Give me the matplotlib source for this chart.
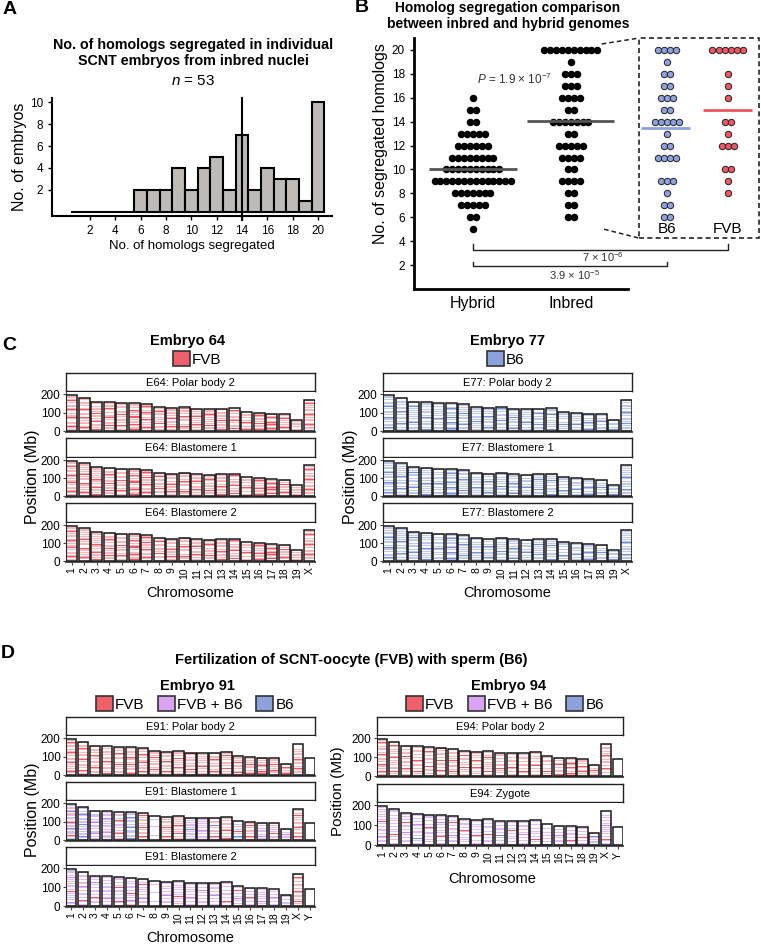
import numpy as np
import matplotlib.pyplot as plt
from matplotlib.patches import Rectangle, Patch
from matplotlib.colors import to_rgba

plt.rcParams['font.family'] = ['Liberation Sans', 'DejaVu Sans']
plt.rcParams['mathtext.fontset'] = 'custom'
plt.rcParams['mathtext.rm'] = 'Liberation Sans'
plt.rcParams['mathtext.it'] = 'Liberation Sans:italic'

# ---- data ----
seg_values = list(range(1, 21))
hybrid_counts = [0, 0, 0, 0, 1, 2, 5, 7, 14, 10, 8, 6, 5, 2, 2, 1, 0, 0, 0, 0]
b6_counts = [0, 0, 0, 0, 0, 2, 2, 1, 3, 0, 4, 2, 1, 5, 2, 3, 2, 2, 1, 4]
fvb_counts = [0, 0, 0, 0, 0, 0, 0, 1, 1, 2, 0, 3, 1, 2, 0, 1, 1, 1, 0, 6]
inbred_counts = [b + f for b, f in zip(b6_counts, fvb_counts)]

chroms = [str(i) for i in range(1, 20)] + ['X', 'Y']
chrom_mb = [195, 182, 160, 157, 152, 150, 145, 130, 125, 131, 122, 120, 121, 125,
            104, 98, 95, 91, 61, 171, 92]

# stripe calls along each chromosome: '.' none, lower = faint, upper = strong
# r = FVB, p = FVB + B6, b = B6
e64_calls = [
    "rr.rRr.rr..rRrr.r.rRr.rr.r.Rr.rr", "r.rRr.rr.rrR..rr.rRr.r.rr.rr",
    "rR.r.rr.Rr.r.rrR.r.rr.r.rr", "r.rr.R.rr.r.Rrr..r.rR.rr.r",
    "rr..rR.r.rr.r.R.rr..rr.r", "rRrr.rRrr.r.RRr.rrR.r.rr",
    "r.rRr.rr.rR.r.rrR.r.rRr", ".r.rr..R.r.rr..rr.Rr.r",
    "rr.rR.r.rr.Rr.r.rr.rr", "r.rrR.r..rr.rR.r.rr.R",
    "rr.r.rR.rr.r.Rr.rr.r", "r.rr.R.r.rr.r.rRr.rr",
    "RR.r.rr.rR.r.rr.rr.r", "r.R.rr.r.Rr.rr.r.rR.",
    ".Rr.r..rR.r..r.rr.", "rRr.rr.Rr.rr.rRr",
    "RrRr.rRrRr.rRr.r", "r.rRr.r.rr.Rr.r",
    "rRr.r.rr.r.", "r.rr.rRr.rr.r.rRr.rr.r.rRr.r",
]
e77_calls = [
    "b.bB.bb.b.bbB.b.bb.b.Bb.bb.b.bb", "bb.b.bB.b.bb.b.bB.bb.b.bb.b",
    "b.bb.b.Bb.b.bb.b.bb.Bb.b", "bB.b.bb.b.bB.b.bb.b.b.bb",
    "b.bb.b.b.bB.b.bb.b.b.b", "BbBb.bbB.b.Bb.bb.bBb.b",
    "b.bb.Bb.b.bb.bB.b.bb.b", "bb.b.b.bB.b.bb.b.b.bb",
    "b.bB.b.bb.b.bB.b.b.b", "bb.b.bb.B.b.bb.b.bB",
    "b.Bb.b.bb.bB.b.b.bb", "bb.b.b.Bb.b.bb.b.b",
    "b.bb.B.b.bb.b.Bb.b", "bB.b.bb.b.b.Bb.bb",
    "b.b.bB.b..b.b.bb", "bb.b.Bb.b.bb.b",
    "bBb.b.bBb.b.bb", "b.bb.b.Bb.b.b",
    "bB.b.bb.b", "b.bb.bB.b.bb.b.bBb.b.bb.b.b",
]
e91_pb2_calls = [
    "r.rRr.r.rr.Rr.rr.r.rRr.r.rr.rR.r", "rr.rR.r.rr.r.Rr.rr.r.rR.rr.r",
    "r.rr.rR.r.rr.r.rR.r.rr.r", "rR.r.rr.r.rR.rr.r.rr.r.",
    "r.rr.r.rR.r..rr.rR.r.r", "rRr.rr.rR.r.rrR.r.rr.r",
    "r.rR.rr.r.Rrr.r.rR.r.r", "rr.r.R.r.rr.r.rR.r.rr",
    "r.rR.r.rr.rR.r.rr.r", "rr.r.rR.r.rr.R.r.rr",
    "r.rr.R.rr.r.rr.r.rR", "rr.r.r.Rr.r.rr.r.r",
    "r.rR.r.rr.r.rR.rr.r", "rr.r.R.r.rr.r.rR.r",
    "r.Rr.r.rr.R.r.rr", "rRr.r.rr.Rr.r.r",
    "rRrR.r.rRr.rr.R", "r.rrR.r.rR.r.rr",
    "rRr.r.rR.r", "r.rr.rR.r.rr.rR.r.rr.r.r....", "",
]
e91_b1_calls = [
    "pb.rR.pbp.rB.pp.bRr.pb.prr.Bp.rp.b", "b.pB.bpb.pp.bB.pb.bp.pBb.p.bp",
    "pp.p.Ppb.p.pp.Pp.p.ppb.p", "p.pbp.Pp.p.pp.bp.pP.pp.p",
    "rr.p.Rr.p.r.pp.rR.p.rp.", "bB.pb.pbb.Bp.b.bb.pB.bp",
    "r.rR.rr.r.Rr.r.rr.rR.", "....b.......p.....b..",
    "r.rR.r.r.rR.r.rr.r.", "rr.r.R.r.r.rR.rr.r.r",
    "pb.p.bp.pB.p.bp.pp.b", "p.pp.p.pP.p.pp.p.p",
    "r.bR.r.br.r.B.rr.r", "rR.r.r.Rr.r.rr.r.r",
    "b.bB.r.R.b.r.b..", "r.rR.r.rr.r.R.r",
    "pp.P.p.pp.p.p.p", "r.pr.R.p.rp.r.",
    "p.pp.P.p.p", "r.rR.rr.r.Rr.rr.r.rR.r.rr", "B...............",
]
e91_b2_calls = [
    "p.pP.b.pp.pR.p.pp.rp.pP.p.ppb", "rp.pR.p.pp.r.pP.pr.p.rp.p",
    "p.pp.pR.p.pp.p.pP.p.p", "pp.p.Pp.p.pp.bp.p.p.p",
    "p.pR.pp.p.pp.Rp.p.pp", "pr.pP.pp.R.p.pp.pp.p",
    "p.pp.Pp.r.pp.p.Rp.p", "...p......p.....p.",
    "p.pp.p.Pp.p.pp.p", "p.rp.p.Rp.p.pp.p.p",
    "pp.p.pP.p.pp.p.p", "p.pp.p.p.pP.p.p",
    "pp.p.p.Pp.p.pp.p", "p.pR.p.pp.p.p.p",
    "p.p.pP.p.p.R.p", "pp.p.pR.p.p.p",
    "p.pP.p.pp.p.p", "pp.p.pP.p.p.",
    "p.pp.p.pP", "r.rR.r.rr.rR.r.rr.r.rR.r", "B...............",
]
e94_pb2_calls = [
    "rr.rR.r.rrR.r.rr.rR.r.rr.r.rR.r", "r.rR.rr.r.rr.Rr.r.rr.rR.r",
    "rr.r.rR.r.rr.r.R.rr.r.r", "r.rR.r.rr.rR.r.r.rr.r",
    "r.r.rr.R..r.rr.r.rR.r", "rr.rR.r.rr.R.r.rr.rR",
    "r.rR.r.rr.r.Rr.r.rr.r", "rr.r.rR.r.r.rr.R.r",
    "r.rr.rR.r.rR.r.rr", "rr.R.r.rr.r.rR.r.r",
    "r.r.rR.rr.r.r.rr", "rr.r.rR.r.rr.r.r",
    "r.rR.r.rr.r.rr.r", "rr.r.r.Rr.r.rr.r",
    "R.rR.r..r.rr.r", "rR.rr.r.Rr.rr",
    "RrRr.rR.rRr.r", "r.rRr.rR.r.rr",
    "rr.rR.r.r", "...r.rR.r.rr.r.rRr.r.rr.r", "",
]
e94_zyg_calls = [
    "p.pp.pP.p.pp.p.pR.p.pp.p.pp", "pp.p.pR.pp.p.p.pp.p.pp",
    "p.pp.p.pP.p.pp.R.p.pp", "pp.bB.p.pp.p.pP.p.p.p",
    "p.rp.p.pp.pR.p.p.pp", "pp.p.Rp.pp.p.pP.p.p",
    "p.pp.pP.p.pp.p.Rp.p", "p.p.pp.p.pR.p.pp.p",
    "pp.p.pR.p.p.pp.p", "p.pp.p.R.p.pp.p.p",
    "pp.b.pB.p.pp.p.p", "p.p.pp.p.Rp.p.p",
    "pp.p.p.Pp.p.pp.p", "p.pR.p.pp.p.p.p",
    "B.p.p.p.p.p..", "p.pp.pP.p.p.b",
    "p.pR.p.pp.p.p", "pp.p.R.p.p.p",
    "b.pb.p.pB.p", ".p.pR.p.r.pp.rP.p.r.p.p..", "",
]

call_colors = {'r': '#EC4856', 'p': '#C57FEA', 'b': '#6A84D4'}
faint_alpha = {'r': 0.38, 'p': 0.5, 'b': 0.42}
legend_colors = {'FVB': '#F0606A', 'FVB + B6': '#D9A3F2', 'B6': '#8DA2DC'}

W, H = 761, 944
fig = plt.figure(figsize=(W / 100, H / 100), dpi=100)


def px_axes(x0, y0, x1, y1):
    return fig.add_axes([x0 / W, 1 - y1 / H, (x1 - x0) / W, (y1 - y0) / H])


def ftext(x, y, s, **kw):
    fig.text(x / W, 1 - y / H, s, **kw)


# ---- panel A ----
ftext(10, 10, 'A', fontsize=14, fontweight='bold', va='center', ha='center')
ftext(193, 53, 'No. of homologs segregated in individual\nSCNT embryos from inbred nuclei',
      fontsize=10.3, fontweight='bold', ha='center', va='center', linespacing=1.2)
ftext(193, 81, r'$\it{n}$ = 53', fontsize=11, ha='center', va='center')

axA = px_axes(52, 98, 332, 216)
axA.bar(seg_values, inbred_counts, width=1, color='#BDBAB7', edgecolor='black', lw=1.5)
axA.axvline(14, ymin=-0.03, ymax=1.0, color='black', lw=1.5, clip_on=False)
axA.set_xlim(-1, 21.1)
axA.set_ylim(-0.4, 10.4)
axA.set_xticks(range(2, 21, 2))
axA.set_yticks(range(2, 11, 2))
axA.tick_params(labelsize=8.5, length=3, width=1)
for s in ['top', 'right']:
    axA.spines[s].set_visible(False)
for s in ['left', 'bottom']:
    axA.spines[s].set_linewidth(1.5)
axA.set_xlabel('No. of homologs segregated', fontsize=9.5, labelpad=2)
axA.set_ylabel('No. of embryos', fontsize=11.5, labelpad=2)

# ---- panel B ----
ftext(362, 8, 'B', fontsize=14, fontweight='bold', va='center', ha='center')
ftext(508, 16, 'Homolog segregation comparison\nbetween inbred and hybrid genomes',
      fontsize=10, fontweight='bold', ha='center', va='center', linespacing=1.2)

axB = px_axes(414, 38, 759, 289)
axB.set_xlim(0.4, 3.92)
axB.set_ylim(0, 21)


def dot_rows(ax, x0, counts, spacing, **kw):
    xs, ys = [], []
    for v, n in zip(seg_values, counts):
        for k in range(n):
            xs.append(x0 + (k - (n - 1) / 2) * spacing)
            ys.append(v)
    ax.plot(xs, ys, 'o', clip_on=False, zorder=3, **kw)


def mean_of(counts):
    return sum(v * n for v, n in zip(seg_values, counts)) / sum(counts)


dot_rows(axB, 1, hybrid_counts, 0.06, color='black', ms=5.4, mew=0)
dot_rows(axB, 2, inbred_counts, 0.06, color='black', ms=5.4, mew=0)
dot_rows(axB, 2.98, b6_counts, 0.062, mfc='#8DA2DC', mec='#222222', ms=4.6, mew=0.7)
dot_rows(axB, 3.6, fvb_counts, 0.062, mfc='#EE5662', mec='#222222', ms=4.6, mew=0.7)

axB.hlines(mean_of(hybrid_counts), 0.55, 1.45, color='#555555', lw=2, zorder=4)
axB.hlines(mean_of(inbred_counts), 1.55, 2.44, color='#555555', lw=2, zorder=4)
axB.hlines(mean_of(b6_counts), 2.72, 3.22, color='#8DA2DC', lw=2, zorder=4)
axB.hlines(mean_of(fvb_counts), 3.35, 3.85, color='#EE5662', lw=2, zorder=4)

axB.add_patch(Rectangle((2.70, 4.25), 1.215, 16.75, fill=False, ls=(0, (3, 2)),
                        lw=1.2, ec='#222222', clip_on=False))
axB.plot([2.315, 2.70], [20.5, 21.0], ls=(0, (3, 2)), lw=1.1, color='#222222', clip_on=False)
axB.plot([2.34, 2.70], [5.0, 4.25], ls=(0, (3, 2)), lw=1.1, color='#222222', clip_on=False)
axB.text(2.98, 5.0, 'B6', fontsize=11, ha='center', va='center')
axB.text(3.6, 5.0, 'FVB', fontsize=11, ha='center', va='center')

axB.text(1.43, 17.5, r'$\it{P}$ = 1.9 × 10$^{-7}$', fontsize=8.5, color='#333333',
         ha='center', va='center')
axB.plot([1, 1, 3.6, 3.6], [3.75, 3.3, 3.3, 3.75], color='#222222', lw=1)
axB.text(2.33, 2.65, '7 × 10$^{-6}$', fontsize=8, color='#333333', ha='center', va='center')
axB.plot([1, 1, 2.98, 2.98], [2.3, 1.9, 1.9, 2.3], color='#222222', lw=1)
axB.text(2.04, 1.15, '3.9 × 10$^{-5}$', fontsize=8, color='#333333', ha='center', va='center')

axB.set_xticks([1, 2])
axB.set_xticklabels(['Hybrid', 'Inbred'], fontsize=11.5)
axB.set_yticks(range(2, 21, 2))
axB.tick_params(axis='y', labelsize=8.5, length=3, width=1)
axB.tick_params(axis='x', length=0, pad=5)
for s in ['top', 'right']:
    axB.spines[s].set_visible(False)
axB.spines['left'].set_linewidth(2)
axB.spines['bottom'].set_linewidth(2)
axB.spines['bottom'].set_bounds(0.4, 2.585)
axB.set_ylabel('No. of segregated homologs', fontsize=11.5, labelpad=3)
axB.yaxis.set_label_coords(-0.075, 0.58)


# ---- panels C and D ----
def draw_facet(x0, x1, yt, ym, yb, label, calls, nchrom, last):
    sax = px_axes(x0, yt, x1, ym - 1)
    sax.set_xticks([])
    sax.set_yticks([])
    for s in sax.spines.values():
        s.set_linewidth(1.0)
        s.set_color('#222222')
    sax.text(0.5, 0.45, label, ha='center', va='center', fontsize=8, transform=sax.transAxes)

    ax = px_axes(x0, ym, x1, yb)
    xs = np.arange(1, nchrom + 1)
    sizes = chrom_mb[:nchrom]
    w = 0.88
    ax.bar(xs, sizes, width=w, color='white', zorder=1)
    ys, xa, xb, cols = [], [], [], []
    for i, (s, L) in enumerate(zip(calls, sizes)):
        n = len(s)
        for k, ch in enumerate(s):
            if ch == '.':
                continue
            c = ch.lower()
            ys.append((k + 0.5) / n * L)
            xa.append(xs[i] - w / 2)
            xb.append(xs[i] + w / 2)
            cols.append(to_rgba(call_colors[c], 0.9 if ch.isupper() else faint_alpha[c]))
    ax.hlines(ys, xa, xb, colors=cols, lw=0.8, zorder=2)
    ax.bar(xs, sizes, width=w, fill=False, edgecolor='#1a1a1a', lw=1.1, zorder=3)
    ax.set_xlim(0.5 + (1 - w) / 2, nchrom + 0.5 - (1 - w) / 2)
    ax.set_ylim(-5, 212)
    ax.set_yticks([0, 100, 200])
    ax.set_xticks(xs)
    ax.tick_params(axis='y', labelsize=8.5, length=2.5, color='#444444', pad=1.5)
    if last:
        ax.set_xticklabels(chroms[:nchrom], rotation=90, fontsize=7.5)
        ax.tick_params(axis='x', length=2.5, color='#444444', pad=1.5)
    else:
        ax.set_xticklabels([])
        ax.tick_params(axis='x', length=0)
    for s in ['top', 'right']:
        ax.spines[s].set_visible(False)
    ax.spines['left'].set_color('#444444')
    ax.spines['left'].set_linewidth(0.8)
    ax.spines['bottom'].set_color('#555555')
    ax.spines['bottom'].set_linewidth(1.5)


def legend_at(cx, cy, names):
    handles = [Patch(facecolor=legend_colors[nm], edgecolor='#333333', lw=1.2) for nm in names]
    fig.legend(handles, names, loc='center', bbox_to_anchor=(cx / W, 1 - cy / H), ncol=len(names),
               frameon=False, fontsize=11, handlelength=1.1, handleheight=1.1,
               handletextpad=0.15, columnspacing=0.9, borderpad=0, borderaxespad=0)


ftext(9, 346, 'C', fontsize=14, fontweight='bold', va='center', ha='center')
c_rows = [(373, 392, 432), (438, 458, 497), (503, 523, 562)]
c_stages = ['Polar body 2', 'Blastomere 1', 'Blastomere 2']

ftext(188, 341, 'Embryo 64', fontsize=10.5, fontweight='bold', ha='center', va='center')
legend_at(197, 359, ['FVB'])
for j, (yt, ym, yb) in enumerate(c_rows):
    draw_facet(66, 315, yt, ym, yb, 'E64: ' + c_stages[j], e64_calls, 20, j == 2)
ftext(32, 477, 'Position (Mb)', fontsize=11.5, rotation=90, ha='center', va='center')
ftext(190, 593, 'Chromosome', fontsize=10.5, ha='center', va='center')

ftext(507, 341, 'Embryo 77', fontsize=10.5, fontweight='bold', ha='center', va='center')
legend_at(506, 359, ['B6'])
for j, (yt, ym, yb) in enumerate(c_rows):
    draw_facet(383, 632, yt, ym, yb, 'E77: ' + c_stages[j], e77_calls, 20, j == 2)
ftext(351, 477, 'Position (Mb)', fontsize=11.5, rotation=90, ha='center', va='center')
ftext(507, 593, 'Chromosome', fontsize=10.5, ha='center', va='center')

ftext(8, 654, 'D', fontsize=14, fontweight='bold', va='center', ha='center')
ftext(351, 660, 'Fertilization of SCNT-oocyte (FVB) with sperm (B6)', fontsize=10.5,
      fontweight='bold', ha='center', va='center')
mix_names = ['FVB', 'FVB + B6', 'B6']

ftext(197, 686, 'Embryo 91', fontsize=10.5, fontweight='bold', ha='center', va='center')
legend_at(195, 704, mix_names)
d91_rows = [(717, 736, 776), (782, 801, 841), (847, 866, 907)]
d91 = [('E91: Polar body 2', e91_pb2_calls), ('E91: Blastomere 1', e91_b1_calls),
       ('E91: Blastomere 2', e91_b2_calls)]
for j, ((yt, ym, yb), (lab, calls)) in enumerate(zip(d91_rows, d91)):
    draw_facet(66, 315, yt, ym, yb, lab, calls, 21, j == 2)
ftext(32, 810, 'Position (Mb)', fontsize=11.5, rotation=90, ha='center', va='center')
ftext(190, 938, 'Chromosome', fontsize=10.5, ha='center', va='center')

ftext(509, 686, 'Embryo 94', fontsize=10.5, fontweight='bold', ha='center', va='center')
legend_at(505, 704, mix_names)
d94_rows = [(717, 736, 777), (784, 803, 846)]
d94 = [('E94: Polar body 2', e94_pb2_calls), ('E94: Zygote', e94_zyg_calls)]
for j, ((yt, ym, yb), (lab, calls)) in enumerate(zip(d94_rows, d94)):
    draw_facet(377, 623, yt, ym, yb, lab, calls, 21, j == 1)
ftext(338, 791, 'Position (Mb)', fontsize=11, rotation=90, ha='center', va='center')
ftext(492, 879, 'Chromosome', fontsize=10.5, ha='center', va='center')

fig.savefig('out.png', dpi=100)
